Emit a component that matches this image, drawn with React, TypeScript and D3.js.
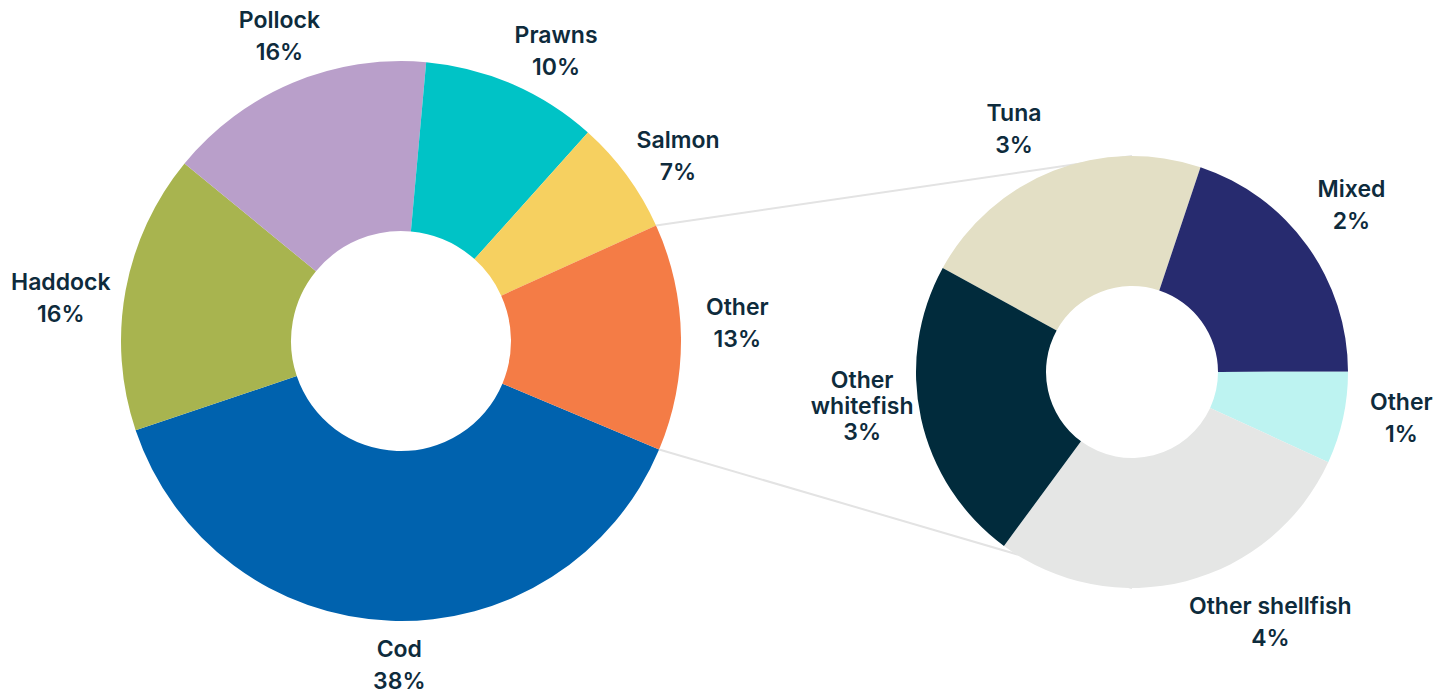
import { useRef, useEffect } from 'react'
import * as d3 from 'd3'

// Main donut (clockwise from the Cod slice)
const mainNames = ['Cod', 'Haddock', 'Pollock', 'Prawns', 'Salmon', 'Other']
const mainShares = [38.5, 16.1, 15.5, 10.2, 6.6, 13.1]
const mainPercents = ['38%', '16%', '16%', '10%', '7%', '13%']
const mainColors = ['#0062ae', '#a8b44f', '#b99fca', '#00c3c6', '#f6d060', '#f47c46']

// Breakdown of "Other" (clockwise from Tuna)
const otherNames = ['Tuna', 'Mixed', 'Other', 'Other shellfish', 'Other\nwhitefish']
const otherShares = [2.9, 2.6, 0.9, 3.7, 3.0]
const otherPercents = ['3%', '2%', '1%', '4%', '3%']
const otherColors = ['#e3dfc5', '#272b6f', '#bdf3f1', '#e5e6e5', '#012b3c']

// hand tweaks for label placement (best-fit style), in px
const mainLabelNudge: [number, number][] = [[10, 6], [-4, 14], [7, -12], [22, 2], [8, 3], [13, -14]]
const otherLabelNudge: [number, number][] = [[-25, -6], [7, -18], [16, -8], [61, 4], [3, -23]]

const WIDTH = 1447
const HEIGHT = 695
const TEXT = '#0e2b3c'
const FONT = 'Inter, "Noto Sans", sans-serif'

type Donut = {
  cx: number
  cy: number
  outer: number
  inner: number
  startDeg: number
}

export default function App() {
  const svgRef = useRef<SVGSVGElement>(null)

  useEffect(() => {
    if (!svgRef.current) return
    const svg = d3.select(svgRef.current)
    svg.selectAll('*').remove()

    const main: Donut = { cx: 401, cy: 341, outer: 280, inner: 110, startDeg: 112.8 }
    const detail: Donut = { cx: 1132, cy: 372, outer: 216, inner: 86, startDeg: -61.2 }

    const makeArcs = (shares: number[], d: Donut) => {
      const start = (d.startDeg * Math.PI) / 180
      return d3
        .pie<number>()
        .sort(null)
        .value((v) => v)
        .startAngle(start)
        .endAngle(start + 2 * Math.PI)(shares)
    }

    const drawSlices = (shares: number[], colors: string[], d: Donut) => {
      const arcs = makeArcs(shares, d)
      const arc = d3.arc<d3.PieArcDatum<number>>().innerRadius(d.inner).outerRadius(d.outer)
      svg
        .append('g')
        .attr('transform', `translate(${d.cx},${d.cy})`)
        .selectAll('path')
        .data(arcs)
        .join('path')
        .attr('d', arc)
        .attr('fill', (_, i) => colors[i])
      return arcs
    }

    const drawLabels = (
      arcs: d3.PieArcDatum<number>[],
      names: string[],
      percents: string[],
      nudge: [number, number][],
      d: Donut
    ) => {
      const pad = 12
      arcs.forEach((a, i) => {
        const lines = [...names[i].split('\n'), percents[i]]
        const lineH = lines.length > 2 ? 26 : 32
        const t = (a.startAngle + a.endAngle) / 2
        const sx = Math.sin(t)
        const sy = -Math.cos(t)

        const text = svg
          .append('text')
          .attr('text-anchor', 'middle')
          .attr('font-family', FONT)
          .attr('font-size', 23)
          .attr('font-weight', 600)
          .attr('fill', TEXT)

        lines.forEach((ln) => {
          text.append('tspan').attr('x', 0).attr('dominant-baseline', 'central').text(ln)
        })

        // widest line decides how far the block is pushed sideways
        const w = d3.max(
          text.selectAll<SVGTSpanElement, unknown>('tspan').nodes(),
          (n) => n.getComputedTextLength()
        ) ?? 0
        const halfH = ((lines.length - 1) * lineH + 20) / 2
        const x = d.cx + sx * (d.outer + pad) + sx * (w / 2) + nudge[i][0]
        const y = d.cy + sy * (d.outer + pad) + sy * halfH + nudge[i][1]

        text
          .selectAll('tspan')
          .attr('x', x)
          .attr('y', (_, j) => y + (j - (lines.length - 1) / 2) * lineH)
      })
    }

    const mainArcs = drawSlices(mainShares, mainColors, main)

    // Connectors from the "Other" slice to the top and bottom of the breakdown
    const other = mainArcs[mainArcs.length - 1]
    const edge = (ang: number) => [main.cx + Math.sin(ang) * main.outer, main.cy - Math.cos(ang) * main.outer]
    const [x1, y1] = edge(other.startAngle)
    const [x2, y2] = edge(other.endAngle)
    svg
      .append('g')
      .attr('stroke', '#e3e3e3')
      .attr('stroke-width', 2)
      .call((g) => {
        g.append('line').attr('x1', x1).attr('y1', y1).attr('x2', detail.cx).attr('y2', detail.cy - detail.outer)
        g.append('line').attr('x1', x2).attr('y1', y2).attr('x2', detail.cx).attr('y2', detail.cy + detail.outer)
      })

    const detailArcs = drawSlices(otherShares, otherColors, detail)

    drawLabels(mainArcs, mainNames, mainPercents, mainLabelNudge, main)
    drawLabels(detailArcs, otherNames, otherPercents, otherLabelNudge, detail)
  }, [])

  return (
    <svg
      ref={svgRef}
      width={WIDTH}
      height={HEIGHT}
      style={{ position: 'absolute', left: 0, top: 0, background: '#fff' }}
    />
  )
}
